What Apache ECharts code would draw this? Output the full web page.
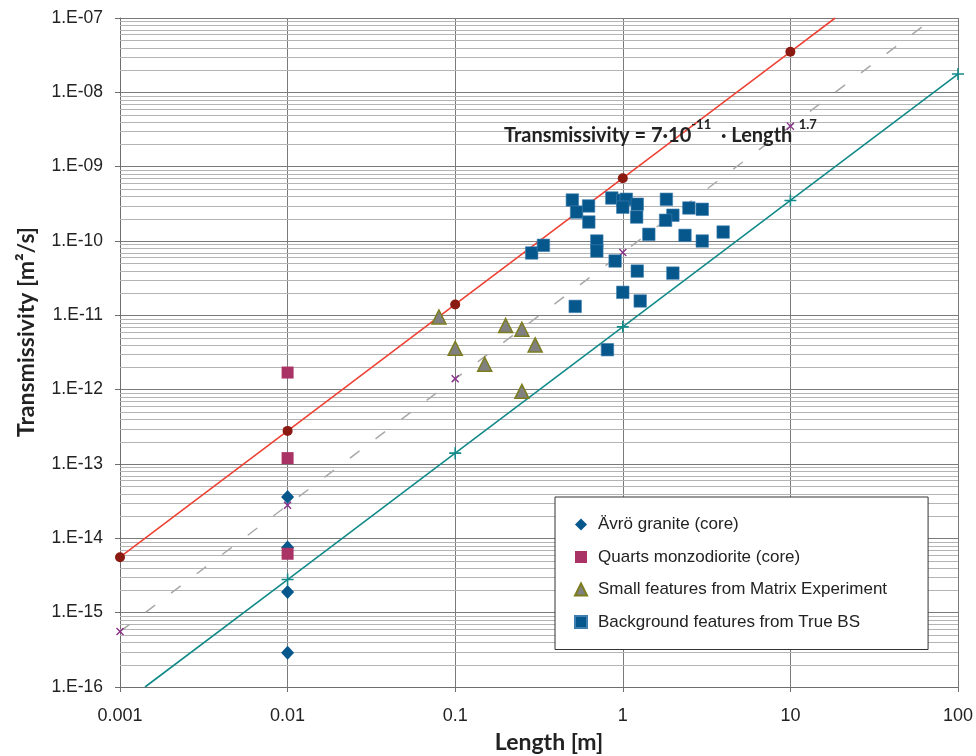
<!DOCTYPE html>
<html>
<head>
<meta charset="utf-8">
<title>Transmissivity vs Length</title>
<script src="https://cdn.jsdelivr.net/npm/echarts@6/dist/echarts.min.js"></script>
<style>
  html, body { margin: 0; padding: 0; background: #ffffff; }
  #chart { width: 976px; height: 756px; }
</style>
</head>
<body>
<div id="chart"></div>
<script>
// Axis tick labels
const xTickLabels = ['0.001', '0.01', '0.1', '1', '10', '100'];
const yTickLabels = ['1.E-16', '1.E-15', '1.E-14', '1.E-13', '1.E-12', '1.E-11', '1.E-10', '1.E-09', '1.E-08', '1.E-07'];

// Series names
const seriesNames = [
  'Ävrö granite (core)',
  'Quarts monzodiorite (core)',
  'Small features from Matrix Experiment',
  'Background features from True BS'
];

// Ävrö granite core samples
const avroLength = [0.01, 0.01, 0.01, 0.01];
const avroTrans = [3.6e-14, 7.5e-15, 1.9e-15, 2.9e-16];

// Quartz monzodiorite core samples
const quartzLength = [0.01, 0.01, 0.01];
const quartzTrans = [1.7e-12, 1.2e-13, 6.2e-15];

// Small features, matrix experiment
const matrixLength = [0.08, 0.1, 0.2, 0.25, 0.3, 0.15, 0.25];
const matrixTrans = [9.5e-12, 3.6e-12, 7.3e-12, 6.5e-12, 4.0e-12, 2.2e-12, 9.5e-13];

// Background features, True BS
const bgLength = [0.50, 0.53, 0.625, 0.627, 0.86, 1.0, 1.05, 1.22, 1.0, 1.21,
                  1.43, 1.82, 1.99, 1.80, 2.48, 2.98, 2.35, 2.98, 3.97, 0.70,
                  0.70, 0.90, 1.22, 1.99, 1.0, 1.27, 0.52, 0.81, 0.286, 0.336];
const bgTrans = [3.56e-10, 2.45e-10, 2.96e-10, 1.80e-10, 3.79e-10, 3.53e-10, 3.64e-10, 3.12e-10, 2.85e-10, 2.10e-10,
                 1.23e-10, 3.64e-10, 2.22e-10, 1.90e-10, 2.78e-10, 2.67e-10, 1.19e-10, 1.00e-10, 1.32e-10, 1.00e-10,
                 7.33e-11, 5.38e-11, 3.94e-11, 3.70e-11, 2.04e-11, 1.56e-11, 1.32e-11, 3.45e-12, 6.9e-11, 8.75e-11];

// Reference power-law lines T = c * L^1.7 (upper, central, lower)
const upperLength = [0.001, 0.01, 0.1, 1, 10, 18.5];
const upperTrans = [5.57e-15, 2.79e-13, 1.40e-11, 7.0e-10, 3.51e-8, 1.0e-7];
const midLength = [0.001, 0.01, 0.1, 1, 10, 71.8];
const midTrans = [5.57e-16, 2.79e-14, 1.40e-12, 7.0e-11, 3.51e-9, 1.0e-7];
const lowerLength = [0.00141, 0.01, 0.1, 1, 10, 100];
const lowerTrans = [1.0e-16, 2.79e-15, 1.40e-13, 7.0e-12, 3.51e-10, 1.76e-8];

const X_MIN = 0.001, X_MAX = 100, Y_MIN = 1e-16, Y_MAX = 1e-7;

const pairs = (xs, ys) => xs.map((x, i) => [x, ys[i]]);
// Reference lines: endpoints that fall on the plot border carry no marker
const linePoints = (xs, ys, noMarkFirst, noMarkLast) => xs.map((x, i) => {
  const item = { value: [x, ys[i]] };
  if ((noMarkFirst && i === 0) || (noMarkLast && i === xs.length - 1)) item.symbol = 'none';
  return item;
});

// Minor grid: 2..9 within each decade
const minorLines = [];
for (let e = -16; e < -7; e++) {
  for (let m = 2; m <= 9; m++) minorLines.push([1, m * Math.pow(10, e)]);
}

const crossPath = 'path://M0,1.2L1.2,0L5,3.8L8.8,0L10,1.2L6.2,5L10,8.8L8.8,10L5,6.2L1.2,10L0,8.8L3.8,5Z';
const plusPath = 'path://M4.35,0H5.65V4.35H10V5.65H5.65V10H4.35V5.65H0V4.35H4.35Z';

const labelFont = '"Liberation Sans", Arial, sans-serif';
const titleFont = 'Lato, "Open Sans", sans-serif';

const chart = echarts.init(document.getElementById('chart'), null, { renderer: 'canvas' });

chart.setOption({
  animation: false,
  backgroundColor: '#ffffff',
  grid: { left: 120, right: 16, top: 18, bottom: 69, containLabel: false },
  xAxis: {
    type: 'log',
    logBase: 10,
    min: X_MIN,
    max: X_MAX,
    splitNumber: 5,
    axisLine: { show: true, lineStyle: { color: '#6e6e6e', width: 1 } },
    axisTick: { show: true, inside: false, length: 5, lineStyle: { color: '#6e6e6e' } },
    axisLabel: {
      margin: 20,
      fontSize: 18,
      fontFamily: labelFont,
      color: '#222',
      formatter: v => xTickLabels[Math.round(Math.log10(v)) + 3]
    },
    splitLine: { show: true, lineStyle: { color: '#7a7a7a', width: 1 } }
  },
  yAxis: {
    type: 'log',
    logBase: 10,
    min: Y_MIN,
    max: Y_MAX,
    splitNumber: 9,
    axisLine: { show: true, lineStyle: { color: '#6e6e6e', width: 1 } },
    axisTick: { show: true, inside: false, length: 5, lineStyle: { color: '#6e6e6e' } },
    axisLabel: {
      margin: 17,
      fontSize: 17.5,
      fontFamily: labelFont,
      color: '#222',
      formatter: v => yTickLabels[Math.round(Math.log10(v)) + 16]
    },
    splitLine: { show: true, lineStyle: { color: '#7a7a7a', width: 1 } }
  },
  legend: {
    data: seriesNames,
    orient: 'vertical',
    left: 555,
    top: 497,
    padding: [19, 41, 19, 19],
    itemGap: 15.5,
    itemWidth: 12,
    itemHeight: 12,
    backgroundColor: '#ffffff',
    borderColor: '#333',
    borderWidth: 1,
    borderRadius: 0,
    textStyle: { fontSize: 17, fontFamily: labelFont, color: '#222', padding: [0, 0, 0, 6] }
  },
  graphic: [
    {
      type: 'text',
      x: 27,
      y: 332,
      rotation: Math.PI / 2,
      style: {
        text: 'Transmissivity [m²/s]',
        font: 'bold 23px ' + titleFont,
        fill: '#222',
        align: 'center',
        verticalAlign: 'middle'
      }
    },
    {
      type: 'text',
      x: 549,
      y: 743,
      style: {
        text: 'Length [m]',
        font: 'bold 23px ' + titleFont,
        fill: '#222',
        align: 'center',
        verticalAlign: 'middle'
      }
    },
    {
      type: 'text',
      x: 504,
      y: 118,
      z: 100,
      style: {
        text: '{a|Transmissivity = 7·10}{s|-11}{a|  · Length}{s|  1.7}',
        fill: '#222',
        rich: {
          a: { font: 'bold 20px ' + titleFont, fill: '#222', lineHeight: 28, verticalAlign: 'bottom' },
          s: { font: 'bold 13px ' + titleFont, fill: '#222', lineHeight: 16, verticalAlign: 'top' }
        }
      }
    }
  ],
  series: [
    {
      // minor horizontal grid lines across the plot
      type: 'custom',
      z: 1,
      silent: true,
      data: minorLines,
      renderItem: (params, api) => {
        const y = api.value(1);
        const p1 = api.coord([X_MIN, y]);
        const p2 = api.coord([X_MAX, y]);
        const py = Math.round(p1[1]) + 0.5;
        return {
          type: 'line',
          shape: { x1: p1[0], y1: py, x2: p2[0], y2: py },
          style: { stroke: '#b4b4b4', lineWidth: 1 }
        };
      }
    },
    {
      name: 'upper',
      type: 'line',
      z: 3,
      data: linePoints(upperLength, upperTrans, false, true),
      symbol: 'circle',
      symbolSize: 10,
      showSymbol: true,
      itemStyle: { color: '#8b1a12', opacity: 1 },
      lineStyle: { color: '#ee4234', width: 1.6 }
    },
    {
      name: 'central',
      type: 'line',
      z: 3,
      data: linePoints(midLength, midTrans, false, true),
      symbol: crossPath,
      symbolSize: 8,
      showSymbol: true,
      itemStyle: { color: '#8a2e8a', opacity: 1 },
      lineStyle: { color: '#a8a8a8', width: 1.5, type: [12, 20] }
    },
    {
      name: 'lower',
      type: 'line',
      z: 3,
      data: linePoints(lowerLength, lowerTrans, true, false),
      symbol: plusPath,
      symbolSize: 12,
      showSymbol: true,
      itemStyle: { color: '#138a8a', opacity: 1 },
      lineStyle: { color: '#138a8a', width: 1.6 }
    },
    {
      name: seriesNames[0],
      type: 'scatter',
      z: 4,
      symbol: 'diamond',
      symbolSize: [13, 14],
      itemStyle: { color: '#06578c', opacity: 1 },
      data: pairs(avroLength, avroTrans)
    },
    {
      name: seriesNames[1],
      type: 'scatter',
      z: 4,
      symbol: 'rect',
      symbolSize: 12,
      itemStyle: { color: '#aa3366', opacity: 1 },
      data: pairs(quartzLength, quartzTrans)
    },
    {
      name: seriesNames[2],
      type: 'scatter',
      z: 4,
      symbol: 'triangle',
      symbolSize: 14,
      itemStyle: { color: '#808080', borderColor: '#7d7d1e', borderWidth: 1.5, opacity: 1 },
      data: pairs(matrixLength, matrixTrans)
    },
    {
      name: seriesNames[3],
      type: 'scatter',
      z: 4,
      symbol: 'rect',
      symbolSize: 12.5,
      itemStyle: { color: '#06578c', borderColor: '#3f7fb0', borderWidth: 0.6, opacity: 1 },
      data: pairs(bgLength, bgTrans)
    }
  ]
});
</script>
</body>
</html>
